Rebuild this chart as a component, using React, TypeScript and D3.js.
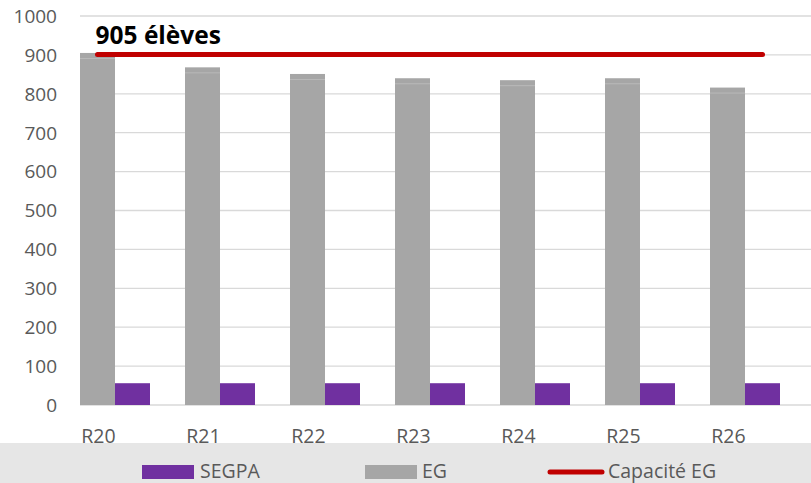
import * as d3 from 'd3';

const categories = ['R20', 'R21', 'R22', 'R23', 'R24', 'R25', 'R26'];
const egValues = [905, 868, 851, 840, 835, 840, 816];
const segpaValues = [56, 56, 56, 56, 56, 56, 56];
const capacity = 905;
const yTicks = [0, 100, 200, 300, 400, 500, 600, 700, 800, 900, 1000];

const W = 811;
const H = 483;
const font = '"Open Sans", sans-serif';
const textColor = '#595959';

export default function App() {
  const x = d3.scaleBand<string>().domain(categories).range([80, 815]).padding(0);
  const sub = d3.scaleBand<string>().domain(['EG', 'SEGPA', 'none']).range([0, x.bandwidth()]);
  const y = d3.scaleLinear().domain([0, 1000]).range([405, 16]);

  const lineStart = (x(categories[0]) ?? 0) + (sub('EG') ?? 0) + sub.bandwidth() / 2;
  const lineEnd = (x(categories[categories.length - 1]) ?? 0) + x.bandwidth() / 2;

  return (
    <svg width={W} height={H} style={{ position: 'absolute', left: 0, top: 0, fontFamily: font }}>
      <rect x={0} y={0} width={W} height={H} fill="#ffffff" />
      {/* gridlines */}
      {yTicks.map(t => (
        <line key={t} x1={80} x2={W} y1={y(t)} y2={y(t)} stroke="#d9d9d9" strokeWidth={1.3} />
      ))}
      {/* y labels */}
      {yTicks.map(t => (
        <text key={'l' + t} x={57} y={y(t)} dy="0.36em" textAnchor="end" fontSize={19} fill={textColor}>
          {t}
        </text>
      ))}
      {/* bars */}
      {categories.map((c, i) => {
        const x0 = x(c) ?? 0;
        const egTop = y(egValues[i]);
        const bw = sub.bandwidth();
        return (
          <g key={c}>
            <rect x={x0 + (sub('EG') ?? 0)} y={egTop} width={bw} height={y(0) - egTop} fill="#a6a6a6" />
            <line x1={x0 + (sub('EG') ?? 0)} x2={x0 + (sub('EG') ?? 0) + bw} y1={egTop + 5.5} y2={egTop + 5.5} stroke="#b9b9b9" strokeWidth={1} />
            <rect x={x0 + (sub('SEGPA') ?? 0)} y={y(segpaValues[i])} width={bw} height={y(0) - y(segpaValues[i])} fill="#7030a0" />
          </g>
        );
      })}
      {/* capacity line */}
      <line x1={lineStart} x2={lineEnd} y1={y(capacity) + 1.5} y2={y(capacity) + 1.5} stroke="#c00000" strokeWidth={5} strokeLinecap="round" />
      <text x={lineStart - 2} y={44} fontSize={24.5} fontWeight="bold" fill="#000000">
        {capacity} élèves
      </text>
      {/* category labels */}
      {categories.map(c => (
        <text key={'c' + c} x={(x(c) ?? 0) + (sub('EG') ?? 0) + sub.bandwidth() / 2 + 1} y={443} textAnchor="middle" fontSize={19.5} fill={textColor}>
          {c}
        </text>
      ))}
      {/* legend band */}
      <rect x={0} y={443} width={W} height={H - 443} fill="#e6e6e6" />
      <rect x={142} y={465} width={52} height={14} fill="#7030a0" />
      <text x={200} y={478} fontSize={19.5} fill={textColor}>SEGPA</text>
      <rect x={365} y={465} width={52} height={14} fill="#a6a6a6" />
      <text x={422} y={478} fontSize={19.5} fill={textColor}>EG</text>
      <line x1={550} x2={602} y1={472} y2={472} stroke="#c00000" strokeWidth={5} strokeLinecap="round" />
      <text x={608} y={478} fontSize={19.5} fill={textColor}>Capacité EG</text>
    </svg>
  );
}
